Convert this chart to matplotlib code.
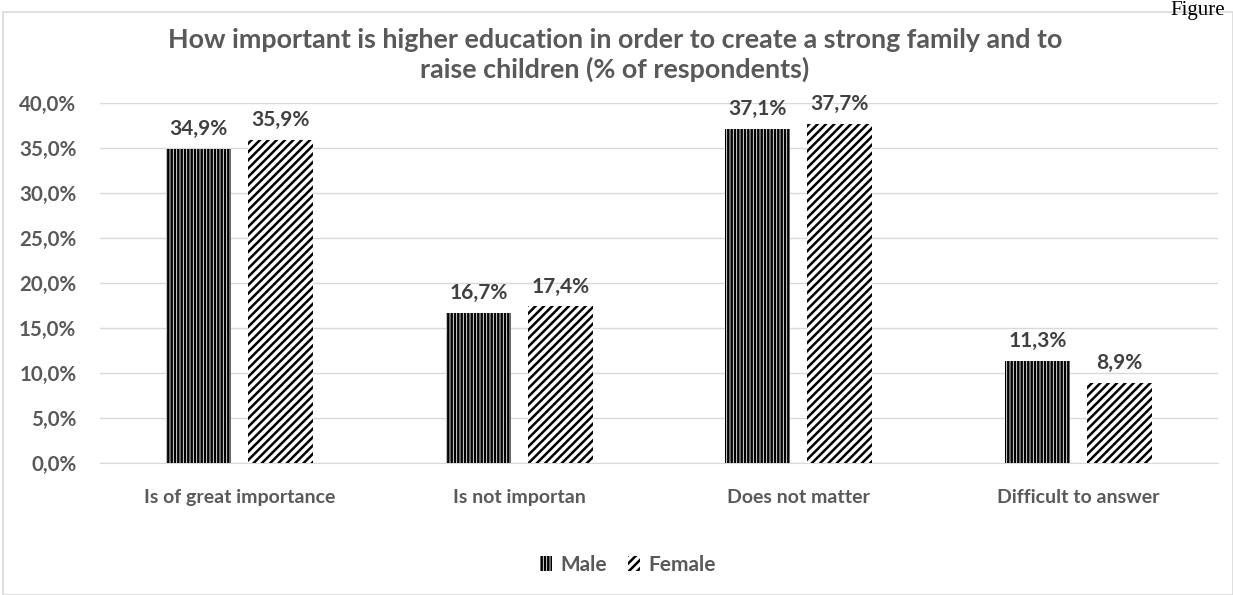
import matplotlib
matplotlib.use("Agg")
import matplotlib.pyplot as plt
import numpy as np
from matplotlib.patches import Rectangle

categories = ["Is of great importance", "Is not importan", "Does not matter", "Difficult to answer"]
male = [34.9, 16.7, 37.1, 11.3]
female = [35.9, 17.4, 37.7, 8.9]
yticks = [0, 5, 10, 15, 20, 25, 30, 35, 40]

plt.rcParams['hatch.linewidth'] = 1.8
plt.rcParams['font.family'] = ['Lato', 'DejaVu Sans']

fig = plt.figure(figsize=(12.33, 5.95), dpi=100)
ax = fig.add_axes([100/1233, 1 - 463/595, (1218-100)/1233, (463-103)/595])

x = np.arange(len(categories))
w = 0.233
gap = 0.06
off = (w + gap) / 2
bm = ax.bar(x - off, male, w, color='white', edgecolor='black', hatch='|||||', linewidth=0, label='Male', zorder=3)
bf = ax.bar(x + off, female, w, color='white', edgecolor='black', hatch='////', linewidth=0, label='Female', zorder=3)

lab_color = '#404040'
for bars, vals in ((bm, male), (bf, female)):
    for b, v in zip(bars, vals):
        ax.text(b.get_x() + b.get_width() / 2, v + 1.1, f"{v:.1f}%".replace('.', ','),
                ha='center', va='bottom', fontsize=15, fontweight='bold', color=lab_color)

ax.set_xlim(-0.5, len(categories) - 0.5)
ax.set_ylim(0, 40)
ax.set_yticks(yticks)
ax.set_yticklabels([f"{t:.1f}%".replace('.', ',') for t in yticks], fontsize=14.8, fontweight='bold', color='#595959')
ax.set_xticks(x)
ax.set_xticklabels(categories, fontsize=14, fontweight='bold', color='#595959')
ax.tick_params(axis='x', length=0, pad=19)
ax.tick_params(axis='y', length=0, pad=17)
ax.grid(axis='y', color='#d9d9d9', linewidth=1, zorder=0)
for s in ['top', 'right', 'left']:
    ax.spines[s].set_visible(False)
ax.spines['bottom'].set_color('#d9d9d9')

fig.text(615/1233, 1 - 55/595, "How important is higher education in order to create a strong family and to\nraise children (% of respondents)",
         ha='center', va='center', fontsize=19.4, fontweight='bold', color='#595959', linespacing=1.22)

leg = fig.legend(handles=[bm, bf], loc='center', bbox_to_anchor=(628/1233, 1 - 565/595), ncol=2, frameon=False,
                 fontsize=15, handlelength=0.6, handleheight=0.7, columnspacing=1.0, handletextpad=0.4)
for t in leg.get_texts():
    t.set_color('#595959')
    t.set_fontweight('bold')

fig.patches.append(Rectangle((3/1233, 0), 1 - 3/1233, 1 - 12/595, transform=fig.transFigure,
                             fill=False, edgecolor='#d9d9d9', linewidth=1.2))
fig.text(1 - 8/1233, 1 - 1/595, "Figure", ha='right', va='top', fontsize=15,
         family='Liberation Serif', color='black')

fig.savefig("out.png", dpi=100)
